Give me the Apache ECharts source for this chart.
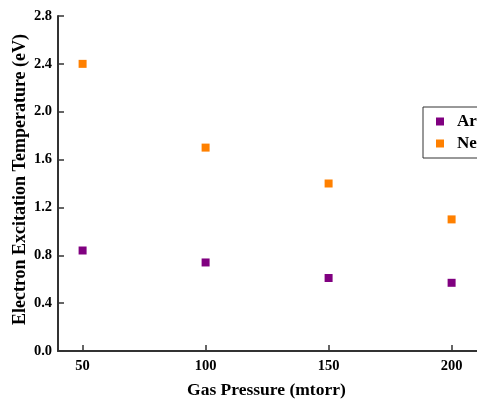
<!DOCTYPE html>
<html>
<head>
<meta charset="utf-8">
<script src="https://cdn.jsdelivr.net/npm/echarts@6/dist/echarts.min.js"></script>
<style>
  html, body { margin: 0; padding: 0; background: #fff; }
  #chart { width: 477px; height: 400px; }
</style>
</head>
<body>
<div id="chart"></div>
<script>
// Gas pressure (mtorr) and electron excitation temperature (eV)
const pressures = [50, 100, 150, 200];
const arTemp = [0.84, 0.74, 0.61, 0.57];
const neTemp = [2.4, 1.7, 1.4, 1.1];
const seriesNames = ['Ar', 'Ne'];
const xTicks = [50, 100, 150, 200];

const serif = '"Liberation Serif", "Times New Roman", serif';
const axisColor = '#333';

const chart = echarts.init(document.getElementById('chart'), null, { renderer: 'canvas' });

chart.setOption({
  animation: false,
  backgroundColor: '#fff',
  grid: { left: 58, top: 16, width: 442.8, height: 335, containLabel: false, outerBoundsMode: 'none' },
  xAxis: {
    type: 'value',
    min: 40, max: 220,
    interval: 10,
    name: 'Gas Pressure (mtorr)',
    nameLocation: 'middle',
    nameGap: 30,
    nameTextStyle: { fontFamily: serif, fontWeight: 'bold', fontSize: 17.5, color: '#000', padding: [0, 26, 0, 0] },
    axisLine: { show: true, lineStyle: { color: axisColor, width: 2 } },
    axisTick: {
      show: true, inside: true, length: 6, lineStyle: { color: axisColor, width: 1.5 },
      customValues: xTicks
    },
    axisLabel: {
      fontFamily: serif, fontWeight: 'bold', fontSize: 14.5, color: '#000', margin: 8,
      customValues: xTicks
    },
    splitLine: { show: false }
  },
  yAxis: {
    type: 'value',
    min: 0, max: 2.8, interval: 0.4,
    name: 'Electron Excitation Temperature (eV)',
    nameLocation: 'middle',
    nameGap: 29,
    nameMoveOverlap: false,
    nameTextStyle: { fontFamily: serif, fontWeight: 'bold', fontSize: 18, color: '#000', padding: [0, 0, 0, 8] },
    axisLine: { show: true, lineStyle: { color: axisColor, width: 2 } },
    axisTick: { show: true, inside: true, length: 6, lineStyle: { color: axisColor, width: 1.5 } },
    axisLabel: {
      fontFamily: serif, fontWeight: 'bold', fontSize: 14.5, color: '#000', margin: 6,
      formatter: v => v.toFixed(1)
    },
    splitLine: { show: false }
  },
  legend: {
    data: seriesNames,
    orient: 'vertical',
    left: 423, top: 107,
    icon: 'rect',
    itemWidth: 8, itemHeight: 8,
    itemGap: 5,
    padding: [6, 30, 6, 13],
    borderColor: '#333', borderWidth: 1,
    textStyle: { fontFamily: serif, fontWeight: 'bold', fontSize: 17, color: '#000', padding: [0, 0, 0, 8] }
  },
  series: [
    {
      name: seriesNames[0], type: 'scatter', symbol: 'rect', symbolSize: 8,
      itemStyle: { color: '#800080', opacity: 1 },
      data: pressures.map((p, i) => [p, arTemp[i]])
    },
    {
      name: seriesNames[1], type: 'scatter', symbol: 'rect', symbolSize: 8,
      itemStyle: { color: '#FF8000', opacity: 1 },
      data: pressures.map((p, i) => [p, neTemp[i]])
    }
  ]
});
</script>
</body>
</html>
